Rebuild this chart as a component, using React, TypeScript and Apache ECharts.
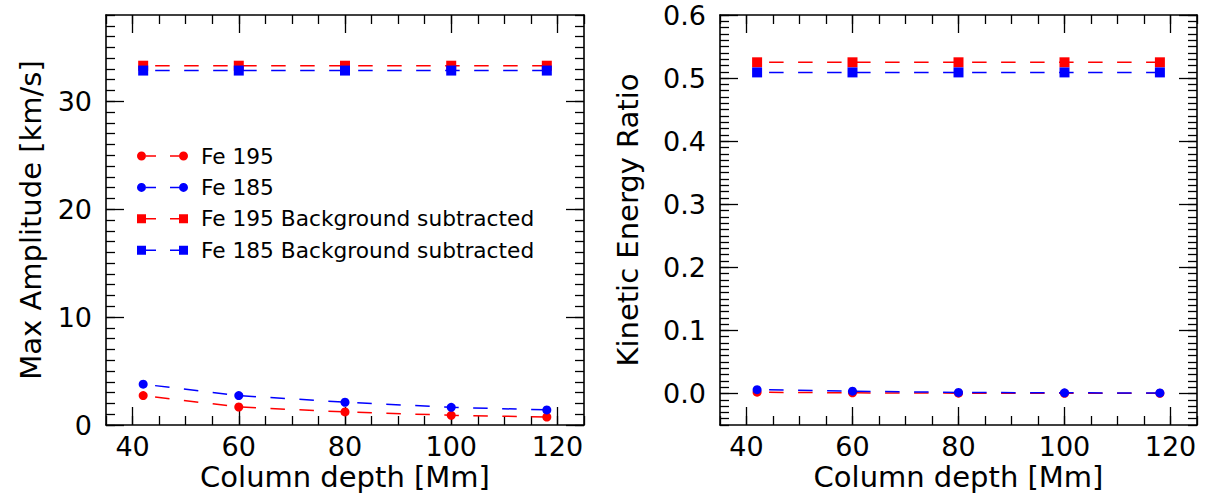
import { useEffect, useRef } from "react";
import * as echarts from "echarts";

// ---------------- data ----------------
const depths = [42, 60, 80, 100, 118];

const fe195Amp = [2.73, 1.67, 1.21, 0.9, 0.74];
const fe185Amp = [3.78, 2.73, 2.11, 1.64, 1.4];
const fe195BgAmp = [33.3, 33.3, 33.3, 33.3, 33.3];
const fe185BgAmp = [32.85, 32.85, 32.85, 32.85, 32.85];

const fe195Ke = [0.002, 0.001, 0.0005, 0.0003, 0.0002];
const fe185Ke = [0.006, 0.0036, 0.0016, 0.001, 0.0008];
const fe195BgKe = [0.525, 0.525, 0.525, 0.525, 0.525];
const fe185BgKe = [0.509, 0.509, 0.509, 0.509, 0.509];

const xMajorTicks = [40, 60, 80, 100, 120];
const ampMajorTicks = [0, 10, 20, 30];
const keMajorTicks = [0, 0.1, 0.2, 0.3, 0.4, 0.5, 0.6];

const seriesNames = [
  "Fe 195",
  "Fe 185",
  "Fe 195 Background subtracted",
  "Fe 185 Background subtracted",
];
const seriesColors = ["#ff0000", "#0000ff", "#ff0000", "#0000ff"];
const seriesSymbols = ["circle", "circle", "rect", "rect"];

// ---------------- styling helpers ----------------
const FONT = "DejaVu Sans";
const AXIS_COLOR = "#000";
const LINE_W = 1.6;
const TICK_W = 1.3;

const circleIcon =
  "path://M0 4.5A4.5 4.5 0 1 0 9 4.5A4.5 4.5 0 1 0 0 4.5Z" +
  "M9 3.75H19V5.25H9Z" +
  "M33 3.75H42V5.25H33Z" +
  "M42 4.5A4.5 4.5 0 1 0 51 4.5A4.5 4.5 0 1 0 42 4.5Z";
const squareIcon =
  "path://M0 0H9V9H0Z" +
  "M9 3.75H19V5.25H9Z" +
  "M33 3.75H42V5.25H33Z" +
  "M42 0H51V9H42Z";

function makeXAxes(gridIndex: number, name: string) {
  const base = {
    type: "value",
    gridIndex,
    min: 35,
    max: 125,
    splitLine: { show: false },
  };
  const lineOn = { show: true, onZero: false, lineStyle: { color: AXIS_COLOR, width: LINE_W } };
  const majorTick = {
    show: true,
    inside: true,
    length: 18,
    customValues: xMajorTicks,
    lineStyle: { color: AXIS_COLOR, width: TICK_W },
  };
  const minorTick = {
    show: true,
    inside: true,
    length: 9,
    lineStyle: { color: AXIS_COLOR, width: TICK_W },
  };
  return [
    {
      ...base,
      position: "bottom",
      axisLine: lineOn,
      axisTick: majorTick,
      axisLabel: {
        show: true,
        customValues: xMajorTicks,
        fontSize: 27,
        fontFamily: FONT,
        color: "#000",
        margin: 8,
      },
      name,
      nameLocation: "middle",
      nameGap: 37,
      nameMoveOverlap: false,
      nameTextStyle: { fontSize: 29, fontFamily: FONT, color: "#000" },
    },
    {
      ...base,
      position: "bottom",
      interval: 5,
      axisLine: { show: false, onZero: false },
      axisTick: minorTick,
      axisLabel: { show: false },
    },
    {
      ...base,
      position: "top",
      axisLine: lineOn,
      axisTick: majorTick,
      axisLabel: { show: false, customValues: xMajorTicks },
    },
    {
      ...base,
      position: "top",
      interval: 5,
      axisLine: { show: false, onZero: false },
      axisTick: minorTick,
      axisLabel: { show: false },
    },
  ];
}

function makeYAxes(
  gridIndex: number,
  name: string,
  min: number,
  max: number,
  majors: number[],
  minorInterval: number,
  nameGap: number,
  fmt: (v: number) => string
) {
  const base = {
    type: "value",
    gridIndex,
    min,
    max,
    splitLine: { show: false },
  };
  const lineOn = { show: true, onZero: false, lineStyle: { color: AXIS_COLOR, width: LINE_W } };
  const majorTick = {
    show: true,
    inside: true,
    length: 18,
    customValues: majors,
    lineStyle: { color: AXIS_COLOR, width: TICK_W },
  };
  const minorTick = {
    show: true,
    inside: true,
    length: 9,
    lineStyle: { color: AXIS_COLOR, width: TICK_W },
  };
  return [
    {
      ...base,
      position: "left",
      axisLine: lineOn,
      axisTick: majorTick,
      axisLabel: {
        show: true,
        customValues: majors,
        formatter: fmt,
        fontSize: 27,
        fontFamily: FONT,
        color: "#000",
        margin: 14,
      },
      name,
      nameLocation: "middle",
      nameGap,
      nameMoveOverlap: false,
      nameTextStyle: { fontSize: 29, fontFamily: FONT, color: "#000" },
    },
    {
      ...base,
      position: "left",
      interval: minorInterval,
      axisLine: { show: false, onZero: false },
      axisTick: minorTick,
      axisLabel: { show: false },
    },
    {
      ...base,
      position: "right",
      axisLine: lineOn,
      axisTick: majorTick,
      axisLabel: { show: false, customValues: majors },
    },
    {
      ...base,
      position: "right",
      interval: minorInterval,
      axisLine: { show: false, onZero: false },
      axisTick: minorTick,
      axisLabel: { show: false },
    },
  ];
}

function makeSeries(axisIndex: number, arrays: number[][]) {
  return arrays.map((arr, i) => ({
    name: seriesNames[i],
    type: "line",
    xAxisIndex: axisIndex,
    yAxisIndex: axisIndex,
    data: depths.map((d, j) => [d, arr[j]]),
    symbol: seriesSymbols[i],
    symbolSize: seriesSymbols[i] === "rect" ? 10 : 9,
    showSymbol: true,
    itemStyle: { color: seriesColors[i] },
    lineStyle: {
      color: seriesColors[i],
      width: 1.5,
      type: [14.5, 14.5],
      dashOffset: 17,
    },
    emphasis: { disabled: true },
    z: 3 + i,
  }));
}

export default function App() {
  const ref = useRef<HTMLDivElement>(null);

  useEffect(() => {
    if (!ref.current) return;
    const chart = echarts.init(ref.current, undefined, { renderer: "svg" });

    const option = {
      animation: false,
      backgroundColor: "#ffffff",
      grid: [
        { left: 106, top: 15, width: 478, height: 410, containLabel: false, outerBoundsMode: "none" },
        { left: 720, top: 15, width: 477, height: 410, containLabel: false, outerBoundsMode: "none" },
      ],
      legend: {
        show: true,
        orient: "vertical",
        left: 137,
        top: 144,
        padding: 0,
        itemGap: 7.4,
        itemWidth: 51,
        itemHeight: 9,
        selectedMode: false,
        textStyle: {
          fontSize: 21.7,
          fontFamily: FONT,
          color: "#000",
          lineHeight: 24,
          padding: [0, 0, 0, 8],
        },
        data: seriesNames.map((n, i) => ({
          name: n,
          icon: seriesSymbols[i] === "rect" ? squareIcon : circleIcon,
          itemStyle: { color: seriesColors[i] },
        })),
      },
      xAxis: [
        ...makeXAxes(0, "Column depth [Mm]"),
        ...makeXAxes(1, "Column depth [Mm]"),
      ],
      yAxis: [
        ...makeYAxes(0, "Max Amplitude [km/s]", 0, 38, ampMajorTicks, 1, 61, (v: number) => String(v)),
        ...makeYAxes(1, "Kinetic Energy Ratio", -0.05, 0.6, keMajorTicks, 0.01, 78, (v: number) =>
          v.toFixed(1)
        ),
      ],
      series: [
        ...makeSeries(0, [fe195Amp, fe185Amp, fe195BgAmp, fe185BgAmp]),
        ...makeSeries(4, [fe195Ke, fe185Ke, fe195BgKe, fe185BgKe]),
      ],
    };

    chart.setOption(option as any);
    return () => {
      chart.dispose();
    };
  }, []);

  return (
    <div
      ref={ref}
      style={{ position: "fixed", left: 0, top: 0, width: 1206, height: 499, background: "#fff" }}
    />
  );
}
